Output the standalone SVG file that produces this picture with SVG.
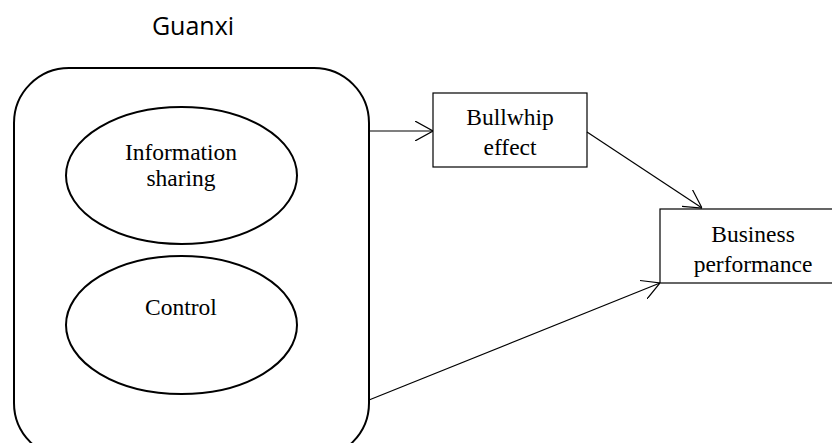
<svg xmlns="http://www.w3.org/2000/svg" width="832" height="443" viewBox="0 0 832 443">
<style>
.t{font-family:"Liberation Serif","Times New Roman",serif;font-size:23.5px;fill:#000;text-anchor:middle}
.s{font-family:"Open Sans","Liberation Sans",sans-serif;font-size:25px;fill:#000;text-anchor:middle}
.ln{fill:none;stroke:#000;stroke-width:1.2}
</style>
<defs>
<marker id="ah" viewBox="0 0 18 20" refX="18" refY="10" markerWidth="18" markerHeight="20" markerUnits="userSpaceOnUse" orient="auto">
<path d="M0,0 L18,10 L0,20" fill="none" stroke="#000" stroke-width="1.2"/>
</marker>
</defs>
<rect width="832" height="443" fill="#fff"/>
<g id="guanxi">
<text class="s" x="193" y="35">Guanxi</text>
<rect x="14" y="68" width="355" height="390" rx="55" ry="55" fill="none" stroke="#000" stroke-width="2"/>
</g>
<g id="info">
<ellipse cx="181.5" cy="175.5" rx="115.5" ry="68.5" fill="none" stroke="#000" stroke-width="2"/>
<text class="t" x="181" y="160">Information</text>
<text class="t" x="181" y="186">sharing</text>
</g>
<g id="control">
<ellipse cx="181.5" cy="325" rx="115.5" ry="69" fill="none" stroke="#000" stroke-width="2"/>
<text class="t" x="181" y="315">Control</text>
</g>
<g id="bullwhip">
<rect x="433" y="93" width="154" height="74" fill="none" stroke="#000" stroke-width="1.2"/>
<text class="t" x="510" y="125">Bullwhip</text>
<text class="t" x="510" y="155">effect</text>
</g>
<g id="business">
<rect x="660" y="209" width="180" height="74" fill="none" stroke="#000" stroke-width="1.2"/>
<text class="t" x="753" y="242">Business</text>
<text class="t" x="753" y="272">performance</text>
</g>
<g id="connectors">
<line class="ln" x1="369" y1="131" x2="433" y2="131" marker-end="url(#ah)"/>
<line class="ln" x1="587" y1="132" x2="702" y2="208" marker-end="url(#ah)"/>
<line class="ln" x1="369" y1="400" x2="660" y2="283" marker-end="url(#ah)"/>
</g>
</svg>
